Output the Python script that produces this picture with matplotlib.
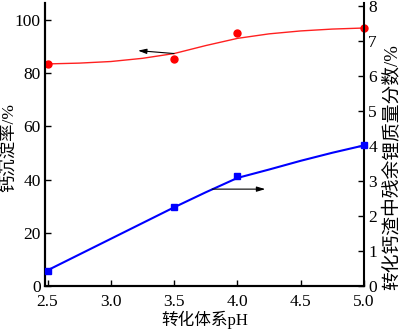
import matplotlib
matplotlib.use('Agg')
import matplotlib.pyplot as plt

plt.rcParams['font.family'] = ['Liberation Serif', 'Noto Sans CJK SC']
plt.rcParams['axes.unicode_minus'] = False

# measured points
ph = [2.5, 3.5, 4.0, 5.0]
ca_rate = [83.5, 85.3, 95.1, 97.0]           # left axis, %
li_residual = [0.44, 2.27, 3.15, 4.03]       # right axis, %

# fitted curves
fit_ph = [2.5, 2.75, 3.0, 3.25, 3.5, 3.75, 4.0, 4.25, 4.5, 4.75, 5.0]
ca_fit = [83.5, 83.8, 84.4, 85.6, 87.4, 90.4, 93.1, 94.8, 95.9, 96.6, 97.0]
li_fit = [0.45, 0.90, 1.35, 1.80, 2.25, 2.68, 3.09, 3.33, 3.58, 3.81, 4.02]

xticks = [2.5, 3.0, 3.5, 4.0, 4.5, 5.0]
left_ticks = [0, 20, 40, 60, 80, 100]
right_ticks = [0, 1, 2, 3, 4, 5, 6, 7, 8]

fig = plt.figure(figsize=(4.0, 3.33), dpi=100)
ax = fig.add_axes([0.1125, 0.141, 0.7975, 0.85])
ax2 = ax.twinx()

# left axis: calcium precipitation
ax.plot(fit_ph, ca_fit, color='#ff2020', lw=1.0)
ax.plot(ph, ca_rate, 'o', color='#ff0000', ms=5, clip_on=False, zorder=5)
ax.annotate('', xy=(3.215, 88.5), xytext=(3.5, 87.4),
            arrowprops=dict(arrowstyle='-|>,head_length=0.5,head_width=0.15',
                            color='black', lw=0.8, shrinkA=0, shrinkB=0))

# right axis: residual lithium
ax2.plot(fit_ph, li_fit, color='#0000ff', lw=1.5)
ax2.plot(ph, li_residual, 's', color='#0000ff', ms=4.5, clip_on=False, zorder=5)
ax2.annotate('', xy=(4.22, 2.77), xytext=(3.80, 2.77),
             arrowprops=dict(arrowstyle='-|>,head_length=0.5,head_width=0.15',
                             color='black', lw=0.8, shrinkA=0, shrinkB=0))

ax.set_xlim(2.48, 5.0)
ax.set_ylim(0, 106.4)
ax2.set_ylim(0, 8.09)
ax.set_xticks(xticks)
ax.set_xticklabels([f'{v:.1f}' for v in xticks])
ax.set_yticks(left_ticks)
ax2.set_yticks(right_ticks)

for a in (ax, ax2):
    a.spines['top'].set_visible(False)
    for s in a.spines.values():
        s.set_linewidth(1.5)
ax.spines['right'].set_visible(False)

ax.tick_params(direction='in', length=4, width=1, labelsize=12.5, pad=3)
ax.tick_params(axis='x', pad=6)
ax2.tick_params(direction='in', length=4, width=1, labelsize=12.5, pad=3)

ax.set_xlabel('转化体系pH', fontsize=12, labelpad=0)
ax.set_ylabel('钙沉淀率/%', fontsize=12.5)
ax.yaxis.set_label_coords(-0.086, 0.488)
ax2.set_ylabel('转化钙渣中残余锂质量分数/%', fontsize=13.5)
ax2.yaxis.set_label_coords(1.06, 0.42)

fig.savefig('out.png', dpi=100)
